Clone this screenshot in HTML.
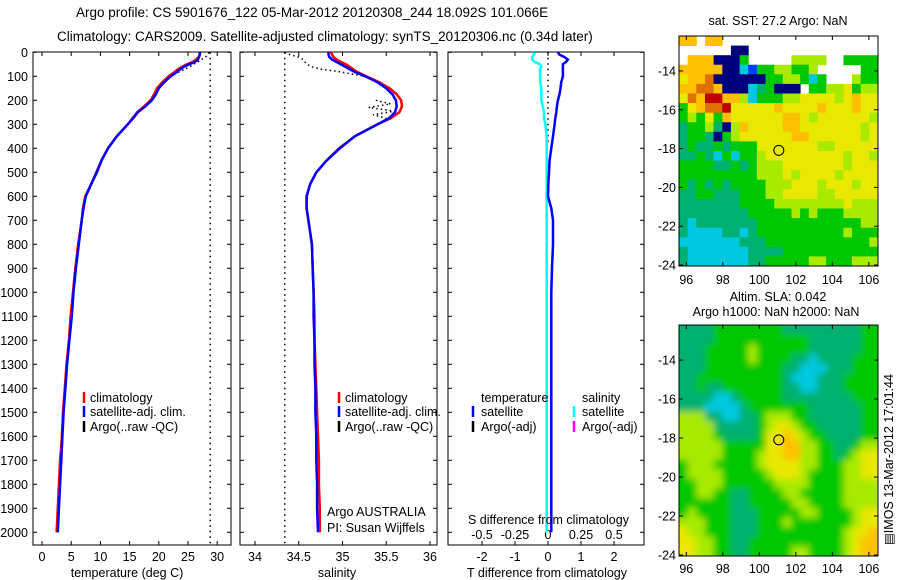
<!DOCTYPE html>
<html><head><meta charset="utf-8"><style>
html,body{margin:0;padding:0;background:#fff;}
svg{display:block;font-family:"Liberation Sans",sans-serif;}
text{font-size:12.5px;fill:#000;}
</style></head><body>
<svg id="fig" width="900" height="580" viewBox="0 0 900 580">
<defs>
<filter id="blur" x="-5%" y="-5%" width="110%" height="110%"><feGaussianBlur stdDeviation="3.5"/></filter>
<clipPath id="slaClip"><rect x="679" y="325" width="199" height="231"/></clipPath>
</defs>
<text x="76" y="17" style="font-size:13.5px">Argo profile: CS 5901676_122 05-Mar-2012 20120308_244 18.092S 101.066E</text>
<text x="57" y="41" style="font-size:13.5px">Climatology: CARS2009. Satellite-adjusted climatology: synTS_20120306.nc (0.34d later)</text>
<g id="g"></g>
</svg>
<script>
const depths=[0,10,20,30,40,50,60,70,80,100,125,150,175,200,225,250,275,300,350,400,450,500,550,600,650,700,800,900,1000,1100,1200,1300,1400,1500,1600,1700,1800,1900,2000];
const tempSat=[27.0,27.0,26.9,26.7,26.2,25.2,24.3,23.7,23.2,22.0,20.9,20.0,19.5,18.8,17.7,16.4,15.6,14.7,12.8,11.3,10.2,9.4,8.4,7.5,7.1,6.8,6.3,5.8,5.4,5.1,4.7,4.3,4.0,3.7,3.5,3.3,3.1,2.9,2.7];
const tempClim=[27.1,27.0,26.8,26.4,25.8,24.8,24.0,23.3,22.8,21.7,20.6,19.7,19.2,18.6,17.5,16.3,15.5,14.7,12.8,11.3,10.2,9.3,8.4,7.4,7.0,6.8,6.2,5.7,5.3,4.9,4.6,4.2,3.9,3.6,3.4,3.1,2.9,2.7,2.5];
const salSat=[34.84,34.84,34.85,34.88,34.93,34.98,35.03,35.08,35.13,35.26,35.40,35.50,35.57,35.61,35.62,35.60,35.53,35.40,35.14,34.97,34.82,34.70,34.63,34.59,34.59,34.61,34.65,34.66,34.67,34.67,34.68,34.68,34.69,34.69,34.70,34.70,34.71,34.71,34.72];
const salClim=[34.87,34.88,34.90,34.93,34.98,35.04,35.08,35.12,35.16,35.27,35.42,35.54,35.62,35.67,35.68,35.65,35.55,35.40,35.14,34.96,34.82,34.70,34.63,34.59,34.59,34.61,34.65,34.66,34.67,34.68,34.68,34.69,34.70,34.71,34.72,34.73,34.73,34.74,34.74];
const dT=[0.3,0.35,0.5,0.6,0.55,0.45,0.45,0.45,0.45,0.45,0.4,0.38,0.35,0.3,0.27,0.25,0.22,0.2,0.15,0.1,0.05,0.03,0.01,0.0,0.1,0.15,0.15,0.12,0.1,0.1,0.1,0.1,0.1,0.1,0.1,0.1,0.1,0.1,0.1];
const dS=[-0.1,-0.11,-0.12,-0.12,-0.1,-0.06,-0.05,-0.06,-0.06,-0.06,-0.06,-0.05,-0.05,-0.05,-0.04,-0.03,-0.03,-0.02,-0.01,-0.01,-0.01,-0.01,-0.01,-0.01,-0.01,-0.01,-0.01,-0.01,-0.01,-0.01,-0.01,-0.01,-0.01,-0.01,-0.01,-0.01,-0.01,-0.01,-0.01];
const argoDepth=[0,10,20,30,40,50,60,70,80,90,100];
const argoT=[28.6,28.4,28.0,27.3,26.7,26.0,25.3,24.5,23.6,22.8,22.0];
const argoS=[34.34,34.40,34.50,34.55,34.57,34.60,34.64,34.75,34.95,35.10,35.26];
const argoBadT=28.8, argoBadS=34.34;
const depthTicks=[0,100,200,300,400,500,600,700,800,900,1000,1100,1200,1300,1400,1500,1600,1700,1800,1900,2000];
const tTicks=[0,5,10,15,20,25,30];
const sTicks=[34,34.5,35,35.5,36];
const dTTicks=[-2,-1,0,1,2];
const dSTicks=[-0.5,-0.25,0,0.25,0.5];
const dSTickLabels=["-0.5","-0.25","0","0.25","0.5"];
const lonTicks=[96,98,100,102,104,106];
const latTicks=[-14,-16,-18,-20,-22,-24];
const argoLon=101.066, argoLat=-18.092;
const sstGrid=[
"77.77..................",
"......00...............",
".7770004.....5555..4444",
"7777700214455445.....44",
"67780000004455424...544",
"77887000234000.44556455",
"68799775244455666656766",
"46788966666766667666766",
"45464766666677656666665",
"34453057666677666666656",
"34430456666667766666656",
"34334344466666665566666",
"33432424456666666665665",
"44443343455566666665666",
"44444444455565666656666",
"43434344445556665666566",
"33443334445566665566666",
"33333334444555555556555",
"33333333444445454445555",
"32333333344444444444455",
"32222332344444444445444",
"22222223334444444444445",
"32222222333344444444444",
"32222222334444455444555"];
const slaGrid=[
"33334444444433333333344",
"33334444444444433333344",
"33344444544444433333344",
"33344444544443323333444",
"33344444444433222333444",
"33444444444432223334444",
"33433444444433223334444",
"33332234444433333333444",
"33322223444444433333344",
"55533223345554433333344",
"55553333345665443333344",
"55554333346676544333344",
"55555444446677554433455",
"55555444456677554434566",
"45554444456666554445566",
"45555444445666544445566",
"44555444444555544445555",
"44554433444455444445555",
"44444433444445544445555",
"45444433344444554444566",
"55544433344454444444566",
"65544433344444444445667",
"66554433444444444445677",
"66554433444445544445677"];
const palette=["#00007f","#0040ff","#00c8e0","#00b070","#00c800","#a8ea00","#e8e800","#ffc000","#e07000","#c00000"];

const NS="http://www.w3.org/2000/svg";
const G=document.getElementById('g');
function mk(tag,attrs,parent){const e=document.createElementNS(NS,tag);for(const k in attrs)e.setAttribute(k,attrs[k]);(parent||G).appendChild(e);return e;}
function txt(x,y,s,anchor,parent){const t=mk('text',{x:x,y:y,'text-anchor':anchor||'start'},parent);t.textContent=s;return t;}
const Y0=52.3,YK=0.24,PT=52,PB=545;
const yD=d=>Y0+d*YK;
const xT=v=>42+v*5.84;
const xS=v=>255+(v-34)*87.5;
const xDT=v=>548+v*33;
const xDS=v=>548+v*132;

function panel(x0,x1,name){
  const g=mk('g',{});
  
  
  mk('rect',{x:x0,y:PT,width:x1-x0,height:PB-PT,fill:'none',stroke:'#000','stroke-width':1},g);
  depthTicks.forEach(d=>{mk('line',{x1:x0,x2:x0+4,y1:yD(d),y2:yD(d),stroke:'#000'},g);mk('line',{x1:x1-4,x2:x1,y1:yD(d),y2:yD(d),stroke:'#000'},g);});
  return g;
}
function poly(xs,xf,color,w,name,dash,parent){
  const pts=xs.map((v,i)=>xf(v).toFixed(1)+','+yD(depths[i]).toFixed(1)).join(' ');
  const p=mk('polyline',{points:pts,fill:'none',stroke:color,'stroke-width':w},parent);
  if(dash)p.setAttribute('stroke-dasharray',dash);
  
  
  return p;
}
function argoLine(ds,vs,xf,parent,name){
  const pts=vs.map((v,i)=>xf(v).toFixed(1)+','+yD(ds[i]).toFixed(1)).join(' ');
  const p=mk('polyline',{points:pts,fill:'none',stroke:'#000','stroke-width':1.5,'stroke-dasharray':'1.5,3'},parent);
  
  
}
function vdots(x,d0,d1,parent,name){
  const l=mk('line',{x1:x,x2:x,y1:yD(d0),y2:Math.min(PB,yD(d1)),stroke:'#000','stroke-width':1.5,'stroke-dasharray':'1.5,4'},parent);
  
  
}
function legend(parent,xb,xt,y,label,color,name){
  mk('line',{x1:xb,x2:xb,y1:y-10,y2:y+1,stroke:color,'stroke-width':2.5},parent);
  const t=txt(xt,y,label,'start',parent);
  
  
}

depthTicks.forEach(d=>{const t=txt(28,yD(d)+4.5,String(d),'end');});

const p1=panel(33,231,'temperature-panel');
tTicks.forEach(v=>{mk('line',{x1:xT(v),x2:xT(v),y1:PB-4,y2:PB,stroke:'#000'},p1);mk('line',{x1:xT(v),x2:xT(v),y1:PT,y2:PT+4,stroke:'#000'},p1);const t=txt(xT(v),561,String(v),'middle',p1);});
vdots(xT(argoBadT),0,2060,p1,'argo-temp-raw');
argoLine(argoDepth,argoT,xT,p1,'argo-temp-surface');
poly(tempClim,xT,'#ff0000',2.5,'temp-climatology-line',null,p1);
poly(tempSat,xT,'#0000ff',2.5,'temp-satellite-line',null,p1);
legend(p1,84,90,402,'climatology','#ff0000','legend-climatology');
legend(p1,84,90,416,'satellite-adj. clim.','#0000ff','legend-satellite');
legend(p1,84,90,431,'Argo(..raw -QC)','#000','legend-argo');
{const t=txt(127,577,'temperature (deg C)','middle');}

const p2=panel(240,437,'salinity-panel');
sTicks.forEach(v=>{mk('line',{x1:xS(v),x2:xS(v),y1:PB-4,y2:PB,stroke:'#000'},p2);mk('line',{x1:xS(v),x2:xS(v),y1:PT,y2:PT+4,stroke:'#000'},p2);const t=txt(xS(v),561,String(v),'middle',p2);});
vdots(xS(argoBadS),0,2060,p2,'argo-sal-raw');
argoLine(argoDepth,argoS,xS,p2,'argo-sal-surface');
argoLine([200,215,230,245,260,275],[35.38,35.55,35.30,35.60,35.35,35.50],xS,p2,'argo-sal-zigzag');
poly(salClim,xS,'#ff0000',2.5,'sal-climatology-line',null,p2);
poly(salSat,xS,'#0000ff',2.5,'sal-satellite-line',null,p2);
legend(p2,339,345,402,'climatology','#ff0000','legend-climatology-sal');
legend(p2,339,345,416,'satellite-adj. clim.','#0000ff','legend-satellite-sal');
legend(p2,339,345,431,'Argo(..raw -QC)','#000','legend-argo-sal');
{const t=txt(327,516,'Argo AUSTRALIA','start',p2);}
{const t=txt(327,532,'PI: Susan Wijffels','start',p2);}
{const t=txt(337,577,'salinity','middle');}

const p3=panel(448,644,'difference-panel');
dTTicks.forEach(v=>{mk('line',{x1:xDT(v),x2:xDT(v),y1:PB-4,y2:PB,stroke:'#000'},p3);mk('line',{x1:xDT(v),x2:xDT(v),y1:PT,y2:PT+4,stroke:'#000'},p3);const t=txt(xDT(v),561,String(v),'middle',p3);});
dSTicks.forEach((v,i)=>{const t=txt(xDS(v),539,dSTickLabels[i],'middle',p3);});
vdots(xDT(0),0,380,p3,'zero-line');
poly(dS,xDS,'#00ffff',2.5,'sal-diff-satellite-line',null,p3);
poly(dT,xDT,'#0000ff',2.5,'temp-diff-satellite-line',null,p3);
{const t=txt(481,402,'temperature','start',p3);}
{const t=txt(582,402,'salinity','start',p3);}
legend(p3,473,481,416,'satellite','#0000ff','legend-t-satellite');
legend(p3,473,481,431,'Argo(-adj)','#000','legend-t-argo');
legend(p3,574,582,416,'satellite','#00ffff','legend-s-satellite');
legend(p3,574,582,431,'Argo(-adj)','#ff00ff','legend-s-argo');
{const t=txt(468,524,'S difference from climatology','start',p3);}
{const t=txt(547,577,'T difference from climatology','middle');}

const MX0=679,MX1=878,LON0=95.6,LON1=106.5,LAT0=-12.2,LAT1=-24.05;
function map(grid,top,bottom,name,tickY,smooth){
  const g=mk('g',{});
  
  
  const xL=v=>MX0+(v-LON0)/(LON1-LON0)*(MX1-MX0);
  const yL=v=>top+(v-LAT0)/(LAT1-LAT0)*(bottom-top);
  let cellsG=g;
  if(smooth){const clip=mk('g',{'clip-path':'url(#slaClip)'},g);cellsG=mk('g',{filter:'url(#blur)'},clip);}
  const nr=grid.length;
  for(let r=0;r<nr;r++){
    const row=grid[r],nc=row.length;
    for(let c=0;c<nc;c++){
      const ch=row[c];if(ch==='.')continue;
      const lonA=LON0+c*(LON1-LON0)/nc,lonB=LON0+(c+1)*(LON1-LON0)/nc;
      const latA=LAT0+r*(LAT1-LAT0)/nr,latB=LAT0+(r+1)*(LAT1-LAT0)/nr;
      let x=xL(lonA),y=yL(latA),w=xL(lonB)-x+0.4,h=yL(latB)-y+0.4;
      if(smooth){if(c===0){x-=8;w+=8;}if(c===nc-1)w+=8;if(r===0){y-=8;h+=8;}if(r===nr-1)h+=8;}
      const cell=mk('rect',{x:x.toFixed(1),y:y.toFixed(1),width:w.toFixed(1),height:h.toFixed(1),fill:palette[+ch]},cellsG);
      
      
    }
  }
  mk('rect',{x:MX0,y:top,width:MX1-MX0,height:bottom-top,fill:'none',stroke:'#000'},g);
  lonTicks.forEach(v=>{mk('line',{x1:xL(v),x2:xL(v),y1:top,y2:top+4,stroke:'#000'},g);mk('line',{x1:xL(v),x2:xL(v),y1:bottom-4,y2:bottom,stroke:'#000'},g);const t=txt(xL(v),tickY,String(v),'middle',g);});
  latTicks.forEach(v=>{mk('line',{x1:MX0,x2:MX0+4,y1:yL(v),y2:yL(v),stroke:'#000'},g);mk('line',{x1:MX1-4,x2:MX1,y1:yL(v),y2:yL(v),stroke:'#000'},g);const t=txt(MX0-3,yL(v)+4.5,String(v),'end',g);});
  const c=mk('circle',{cx:xL(argoLon),cy:yL(argoLat),r:5,fill:'none',stroke:'#000','stroke-width':1},g);
  
  
}
map(sstGrid,36,266,'sst-map',284,false);
map(slaGrid,325,556,'sla-map',573,true);
{const t=txt(778,25,'sat. SST: 27.2 Argo: NaN','middle');}
{const t=txt(778,301,'Altim. SLA: 0.042','middle');}
{const t=txt(776,316,'Argo h1000: NaN h2000: NaN','middle');}
{const t=txt(0,0,'\u25A4IMOS 13-Mar-2012 17:01:44','start');t.setAttribute('transform','translate(893,545) rotate(-90)');}
</script>
</body></html>
